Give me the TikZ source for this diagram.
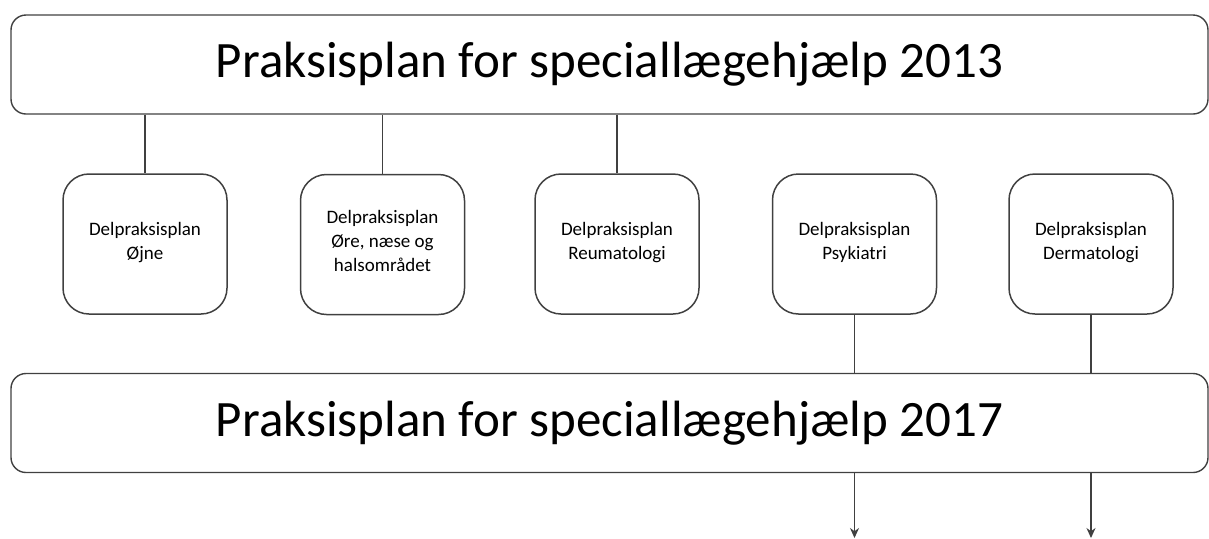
\documentclass[tikz,border=0pt]{standalone}
\usepackage{fontspec}
\setmainfont{Carlito}
\usetikzlibrary{arrows.meta}
\tikzset{
  planbox/.style={draw=black!75, line width=0.7pt, rounded corners=7.5pt,
    minimum width=598.5pt, minimum height=49.5pt,
    font=\fontsize{25.5}{30}\selectfont},
  delbox/.style={draw=black!75, line width=0.75pt, rounded corners=13pt,
    minimum width=82pt, minimum height=70pt, align=center,
    font=\fontsize{9.5}{12}\selectfont, execute at end node=\strut},
  link/.style={draw=black!75, line width=0.6pt}
}
\begin{document}
\begin{tikzpicture}[x=0.5pt,y=-0.5pt]
    \useasboundingbox (0,0) rectangle (1209,538);

    % the two plans
    \node[planbox] (plan13) at (609.5,64.5) {Praksisplan for speciallægehjælp 2013};
    \node[planbox] (plan17) at (609.5,423) {Praksisplan for speciallægehjælp 2017};

    % the five part plans
    \node[delbox] (del1) at (145,244) {Delpraksisplan\\Øjne};
    \node[delbox] (del2) at (382.5,244.5) {Delpraksisplan\\Øre, næse og\\halsområdet};
    \node[delbox] (del3) at (617,244) {Delpraksisplan\\Reumatologi};
    \node[delbox] (del4) at (854.5,244) {Delpraksisplan\\Psykiatri};
    \node[delbox] (del5) at (1091,244) {Delpraksisplan\\Dermatologi};

    \foreach \i in {1,2,3}
      \draw[link] (plan13.south -| del\i.north) -- (del\i.north);

    \coordinate (out4) at (854.5,538);
    \coordinate (out5) at (1091,538);
    \foreach \i in {4,5} {
      \draw[link] (del\i.south) -- (plan17.north -| del\i.south);
      \draw[link,-{Stealth[length=5pt,width=4.5pt]}] (plan17.south -| out\i) -- (out\i);
    }
  \end{tikzpicture}
\end{document}
